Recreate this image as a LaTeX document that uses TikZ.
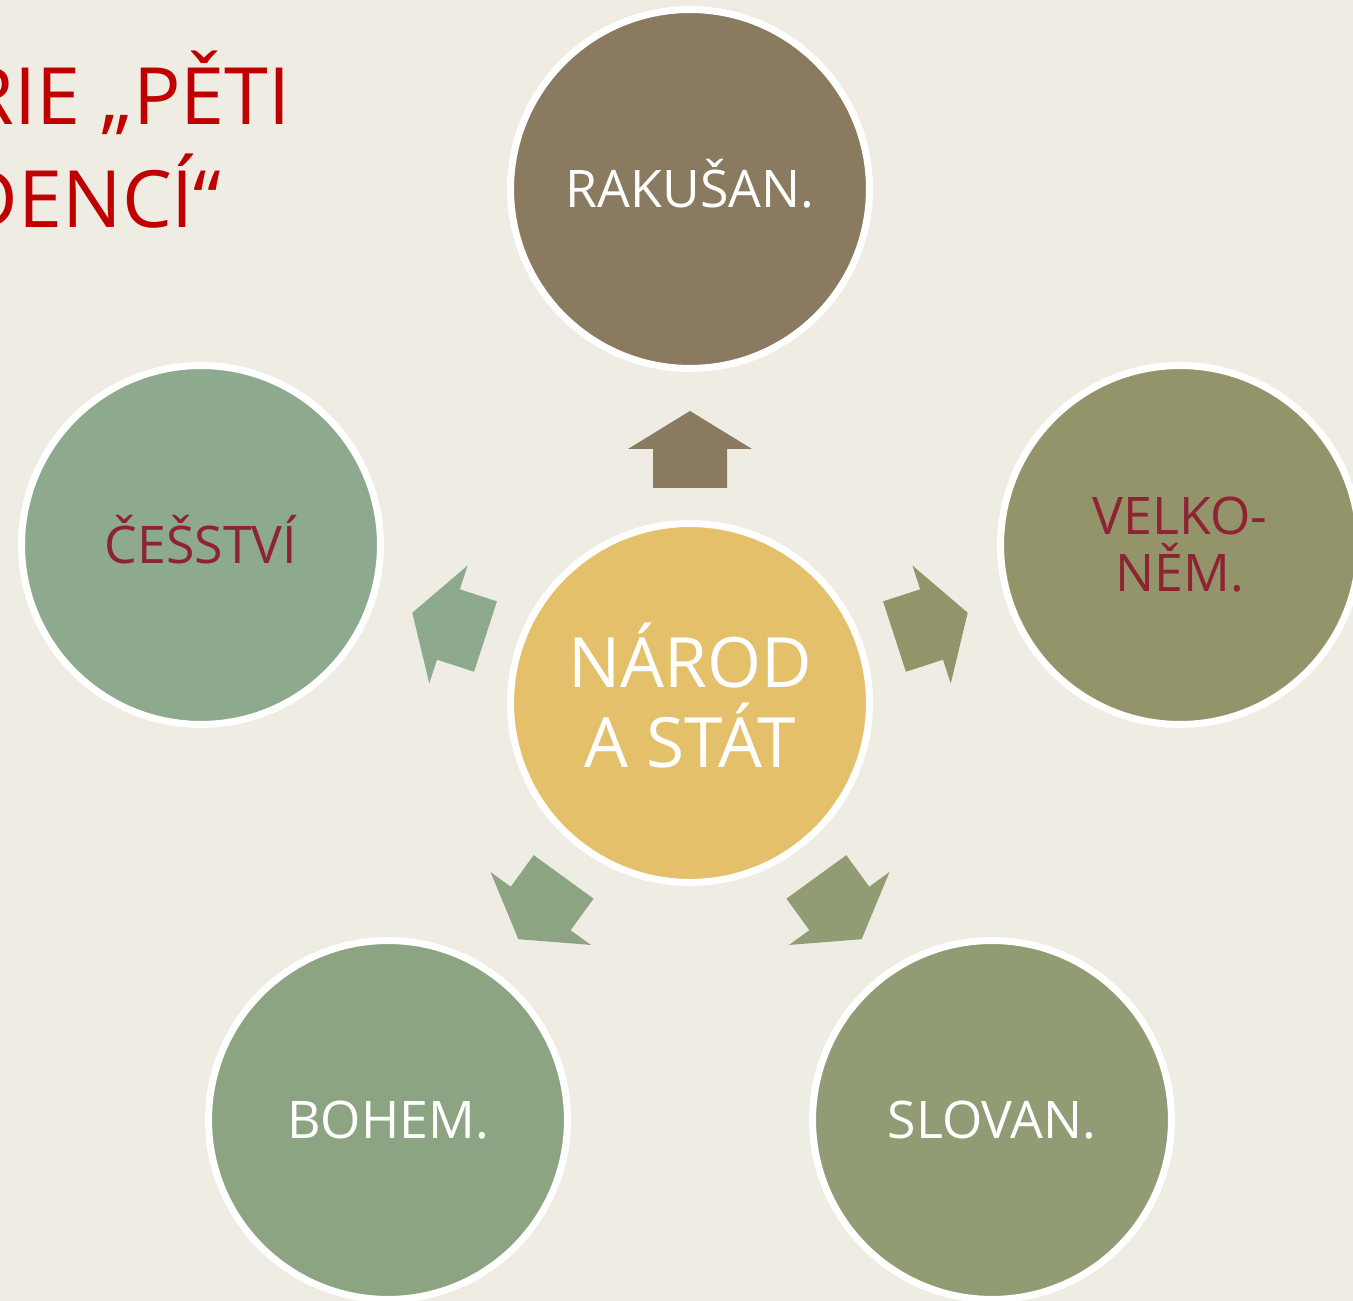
\documentclass[tikz,border=0pt]{standalone}
\usepackage{fontspec}
\setmainfont{Open Sans}
\definecolor{paper}{HTML}{EFECE3}
\definecolor{hnedá}{HTML}{8A7A5F}
\definecolor{olivová}{HTML}{94946A}
\definecolor{šedozel}{HTML}{8EAA8E}
\definecolor{zelená}{HTML}{8CA482}
\definecolor{mechová}{HTML}{919B74}
\definecolor{žlutá}{HTML}{E4C06B}
\definecolor{vínová}{HTML}{8E2333}
\definecolor{titul}{HTML}{C00000}
\tikzset{
  kruh/.style={circle,draw=white,line width=0.14cm,minimum size=7.18cm,
    inner sep=0pt,align=center,text height=21pt,text depth=0pt,
    font=\fontsize{29.5}{41}\selectfont},
  titulek/.style={anchor=base east,inner sep=0pt,text=titul,
    font=\fontsize{45}{54}\selectfont},
}
\begin{document}
\begin{tikzpicture}[x=0.02cm,y=0.02cm]
  \fill[paper] (0,0) rectangle (1353,1301);
  \useasboundingbox (0,0) rectangle (1353,1301);
  \clip (0,0) rectangle (1353,1301);
  % nazev (orezany)
  \node[titulek] (t1) at (291,1176) {RIE „PĚTI};
  \node[titulek] (t2) at (222,1073) {DENCÍ“};
  % kruhy
  \node[kruh,fill=žlutá,text=white,text height=,text depth=9pt,
    font=\fontsize{39.5}{45.5}\selectfont]
    (centre) at (690,598) {NÁROD\\A STÁT};
  \node[kruh,fill=hnedá,text=white] (top) at (690,1112) {RAKUŠAN.};
  \node[kruh,fill=olivová,text=vínová,text height=,text depth=,
    font=\fontsize{29.5}{32.4}\selectfont]
    (right) at (1180,756) {VELKO-\\NĚM.};
  \node[kruh,fill=šedozel,text=vínová] (left) at (201,756) {ČEŠSTVÍ};
  \node[kruh,fill=zelená,text=white] (botleft) at (388,181) {BOHEM.};
  \node[kruh,fill=mechová,text=white] (botright) at (992,181) {SLOVAN.};
  % sipky ze stredu
  \foreach \a/\c in {0/hnedá,-72/olivová,-144/mechová,144/zelená,72/šedozel}
    \fill[\c,shift={(centre.center)},rotate=\a]
      (0,292) -- (62,254) -- (37,254) -- (37,215) -- (-37,215)
      -- (-37,254) -- (-62,254) -- cycle;
\end{tikzpicture}
\end{document}
